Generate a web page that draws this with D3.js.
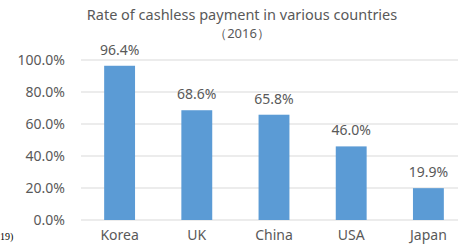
<!DOCTYPE html>
<html>
<head>
<meta charset="utf-8">
<script src="https://cdn.jsdelivr.net/npm/d3@7"></script>
<style>
  body { margin: 0; background: #fff; }
  text { font-family: "Noto Sans", "DejaVu Sans", sans-serif; fill: #595959; }
</style>
</head>
<body>
<div id="chart"></div>
<script>
const countries = ["Korea", "UK", "China", "USA", "Japan"];
const rates = [96.4, 68.6, 65.8, 46.0, 19.9];
const yTicks = [0, 20, 40, 60, 80, 100];

const W = 459, H = 248;
const margin = {top: 60, right: 0, bottom: 28, left: 81};
const plotH = H - margin.top - margin.bottom;

const svg = d3.select("#chart").append("svg")
    .attr("width", W)
    .attr("height", H);

const x = d3.scaleBand()
    .domain(countries)
    .range([margin.left, 467])
    .paddingInner(0.6)
    .paddingOuter(0.3);

const y = d3.scaleLinear()
    .domain([0, 100])
    .range([margin.top + plotH, margin.top]);

// grid lines
svg.append("g")
    .selectAll("line")
    .data(yTicks)
    .join("line")
    .attr("x1", margin.left)
    .attr("x2", 458)
    .attr("y1", d => y(d))
    .attr("y2", d => y(d))
    .attr("stroke", "#d9d9d9")
    .attr("stroke-width", 1);

// y axis labels
const yAxis = d3.axisLeft(y)
    .tickValues(yTicks)
    .tickFormat(d => d.toFixed(1) + "%")
    .tickSize(0)
    .tickPadding(16);

svg.append("g")
    .attr("transform", `translate(${margin.left},0)`)
    .call(yAxis)
    .call(g => g.select(".domain").remove())
    .selectAll("text")
    .style("font-size", "14px")
    .attr("fill", "#595959");

// bars
svg.append("g")
    .selectAll("rect")
    .data(rates)
    .join("rect")
    .attr("x", (d, i) => x(countries[i]))
    .attr("width", x.bandwidth())
    .attr("y", d => y(d))
    .attr("height", d => y(0) - y(d))
    .attr("fill", "#5b9bd5");

// value labels
svg.append("g")
    .selectAll("text")
    .data(rates)
    .join("text")
    .attr("x", (d, i) => x(countries[i]) + x.bandwidth() / 2)
    .attr("y", d => y(d) - 11)
    .attr("text-anchor", "middle")
    .style("font-size", "14px")
    .text(d => d.toFixed(1) + "%");

// x axis labels
const xAxis = d3.axisBottom(x).tickSize(0).tickPadding(10);
svg.append("g")
    .attr("transform", `translate(0,${y(0)})`)
    .call(xAxis)
    .call(g => g.select(".domain").remove())
    .selectAll("text")
    .style("font-size", "14px")
    .attr("fill", "#595959");

// title
svg.append("text")
    .attr("x", 242)
    .attr("y", 20)
    .attr("text-anchor", "middle")
    .style("font-size", "14.5px")
    .text("Rate of cashless payment in various countries");
svg.append("text")
    .attr("x", 242)
    .attr("y", 38)
    .attr("text-anchor", "middle")
    .style("font-size", "13px")
    .text("（2016）");

// cut-off source note
svg.append("text")
    .attr("x", 0)
    .attr("y", 240)
    .style("font-family", "'Liberation Serif', serif")
    .style("font-size", "10px")
    .style("fill", "#000")
    .text("19)");
</script>
</body>
</html>
